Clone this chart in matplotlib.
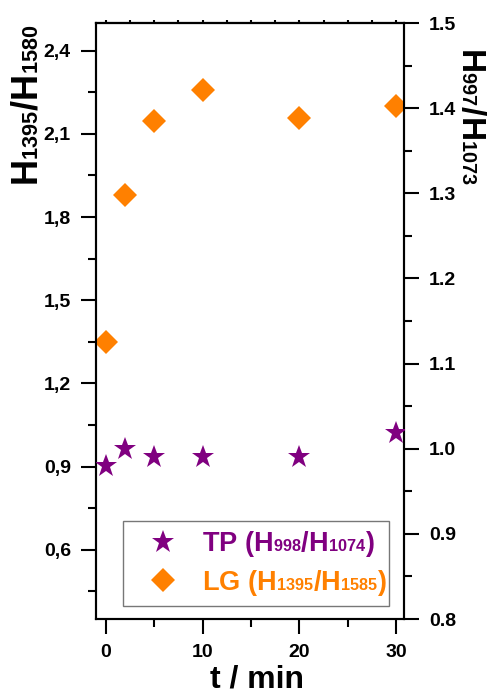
import numpy as np
import matplotlib
matplotlib.use("Agg")
import matplotlib.pyplot as plt
from matplotlib.ticker import MultipleLocator, FuncFormatter

# subscripts in the original sit on the baseline and are fairly small
try:
    import matplotlib._mathtext as _mt
    _mt.FontConstantsBase.sub1 = 0.0
    _mt.FontConstantsBase.sub2 = 0.0
    _mt.FontConstantsBase.subdrop = 0.0
    _mt.SHRINK_FACTOR = 0.6
except Exception:
    pass

plt.rcParams['font.family'] = ['Liberation Sans', 'DejaVu Sans']
plt.rcParams['font.weight'] = 'bold'
plt.rcParams['mathtext.fontset'] = 'custom'
plt.rcParams['mathtext.rm'] = 'Liberation Sans:bold'
plt.rcParams['mathtext.bf'] = 'Liberation Sans:bold'

# data
t_min = [0, 2, 5, 10, 20, 30]
lg_ratio = [1.35, 1.88, 2.145, 2.26, 2.158, 2.20]     # left axis
tp_ratio = [0.980, 1.000, 0.990, 0.990, 0.990, 1.019]  # right axis

purple = '#800080'
orange = '#FF8000'

fig = plt.figure(figsize=(4.9, 6.94), dpi=100)
ax = fig.add_axes([96/490, 1-619/694, 308/490, 596/694])
ax2 = ax.twinx()

ax.plot(t_min, lg_ratio, 'D', color=orange, markersize=12, markeredgewidth=0, zorder=3)
ax2.plot(t_min, tp_ratio, '*', color=purple, markersize=17, markeredgewidth=0, zorder=3)

ax.set_xlim(-1.0, 30.8)
ax.set_ylim(0.35, 2.5)
ax2.set_ylim(0.8, 1.5)

ax.xaxis.set_major_locator(MultipleLocator(10))
ax.xaxis.set_minor_locator(MultipleLocator(5))
ax.yaxis.set_major_locator(MultipleLocator(0.3))
ax.yaxis.set_minor_locator(MultipleLocator(0.15))
ax2.yaxis.set_major_locator(MultipleLocator(0.1))
ax2.yaxis.set_minor_locator(MultipleLocator(0.05))

ax.yaxis.set_major_formatter(FuncFormatter(lambda v, p: ('%.1f' % v).replace('.', ',')))
ax2.yaxis.set_major_formatter(FuncFormatter(lambda v, p: '%.1f' % v))

for a in (ax, ax2):
    for s in a.spines.values():
        s.set_linewidth(1.5)
    a.tick_params(which='major', length=11, width=1.5, direction='out', labelsize=14, pad=7)
    a.tick_params(which='minor', length=6, width=1.5, direction='out')

ax.tick_params(axis='x', which='both', top=False)

# tiny ticks along the top edge
top = ax.secondary_xaxis('top')
top.xaxis.set_major_locator(MultipleLocator(2.5))
top.tick_params(length=2, width=1.5, direction='out', labeltop=False)
top.spines['top'].set_linewidth(1.5)

for lab in ax.get_xticklabels() + ax.get_yticklabels() + ax2.get_yticklabels():
    lab.set_fontweight('bold')

ax.set_xlabel('t / min', fontsize=23, fontweight='bold')
ax.xaxis.set_label_coords(0.523, -0.102)
ax.xaxis.label.set_va('center')

ax.set_ylabel(r'H$_{\mathbf{1395}}$/H$_{\mathbf{1580}}$', fontsize=26, fontweight='bold',
              va='center', ha='center')
ax.yaxis.set_label_coords(-0.222, 0.862)

ax2.set_ylabel(r'H$_{\mathbf{997}}$/H$_{\mathbf{1073}}$', fontsize=24, fontweight='bold',
               rotation=270, va='center', ha='center')
ax2.yaxis.set_label_coords(1.216, 0.843)

h1, = ax.plot([], [], '*', color=purple, markersize=17, markeredgewidth=0)
h2, = ax.plot([], [], 'D', color=orange, markersize=12, markeredgewidth=0)
leg = ax2.legend([h1, h2],
                 [r'TP (H$_{\mathbf{998}}$/H$_{\mathbf{1074}}$)',
                  r'LG (H$_{\mathbf{1395}}$/H$_{\mathbf{1585}}$)'],
                 loc='lower left', bbox_to_anchor=(0.087, 0.022, 0.864, 0.14),
                 mode='expand',
                 prop={'size': 19.5, 'weight': 'bold'},
                 frameon=True, fancybox=False, borderpad=0.3,
                 handlelength=2.4, handletextpad=0.21, labelspacing=0.32,
                 borderaxespad=0)
leg.get_frame().set_edgecolor('#555555')
leg.get_frame().set_linewidth(1.0)
for txt, c in zip(leg.get_texts(), [purple, orange]):
    txt.set_color(c)

fig.savefig('out.png', dpi=100)
